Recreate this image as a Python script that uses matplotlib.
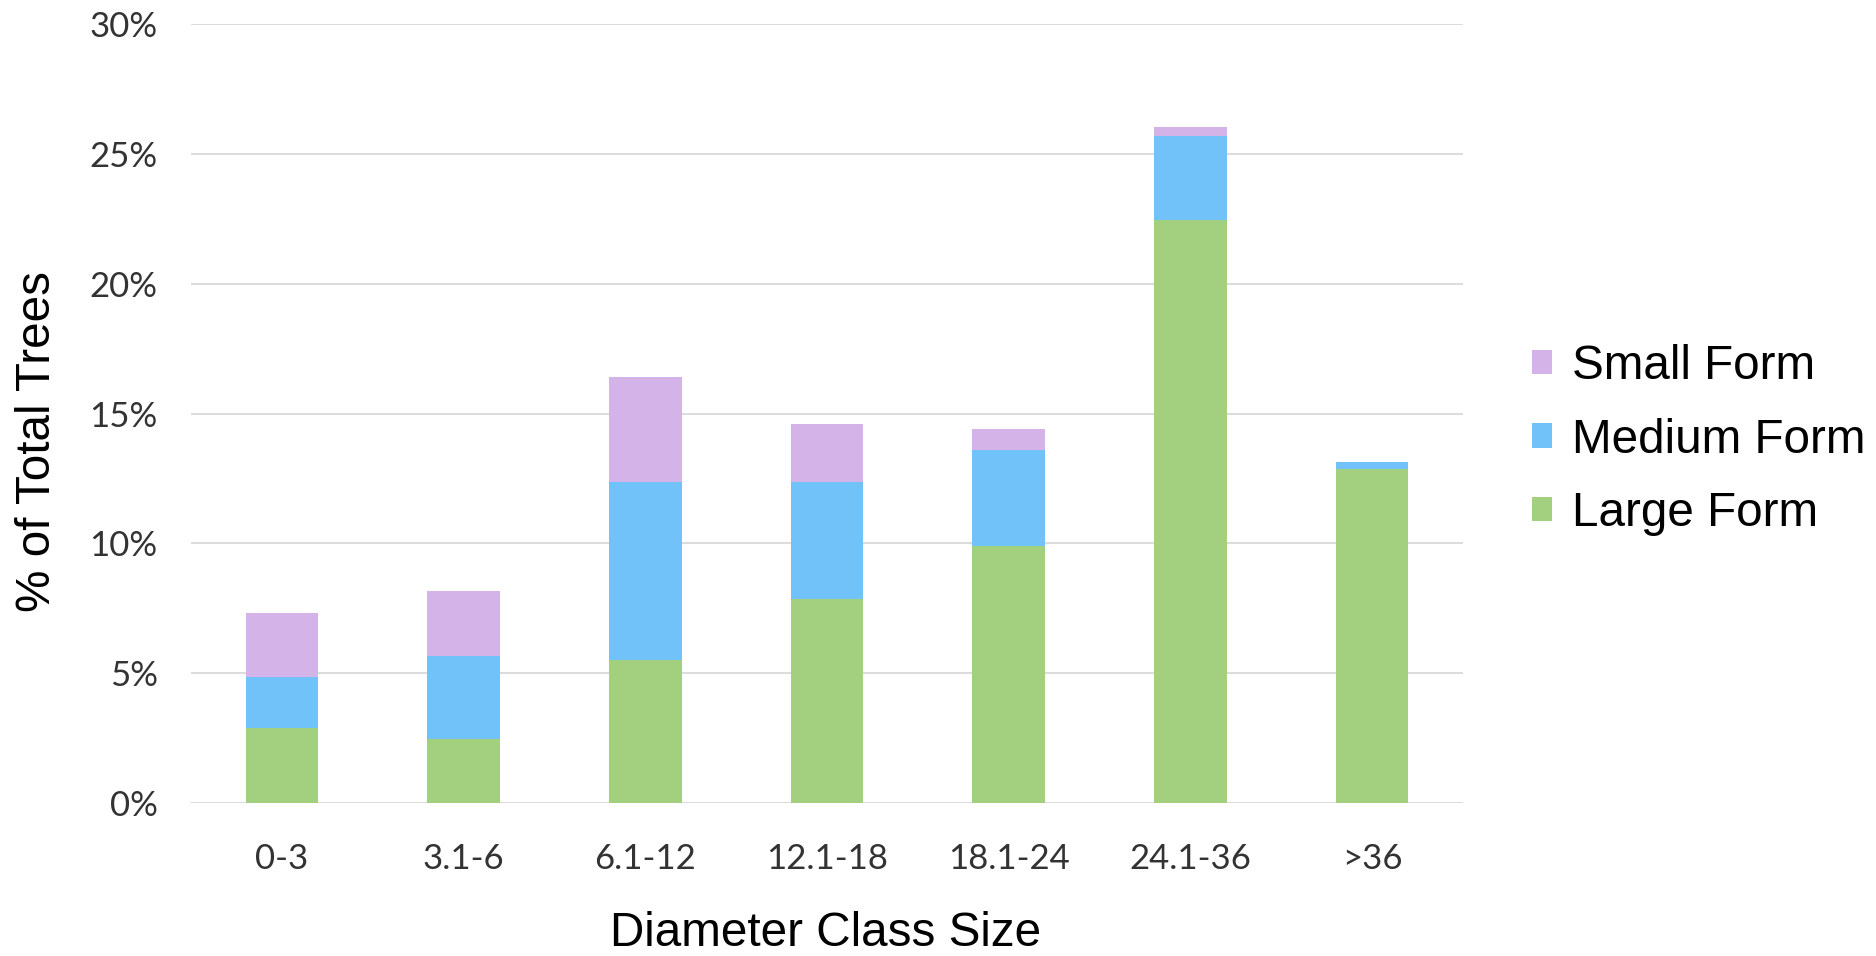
import matplotlib
matplotlib.use("Agg")
import matplotlib.pyplot as plt
import numpy as np

categories = ["0-3", "3.1-6", "6.1-12", "12.1-18", "18.1-24", "24.1-36", ">36"]
large_form = [2.9, 2.45, 5.5, 7.85, 9.9, 22.45, 12.85]
medium_form = [1.95, 3.2, 6.85, 4.5, 3.7, 3.25, 0.3]
small_form = [2.45, 2.5, 4.05, 2.25, 0.8, 0.35, 0.0]
y_ticks = [0, 5, 10, 15, 20, 25, 30]

c_large = "#A2D07F"
c_medium = "#72C2FA"
c_small = "#D4B4E8"

W, H = 1876, 956
fig = plt.figure(figsize=(W / 100, H / 100), dpi=100)
fig.patch.set_facecolor("white")
ax = fig.add_axes([191 / W, 1 - 803 / H, (1463 - 191) / W, (803 - 24) / H])

x = np.arange(len(categories))
bw = 0.4
large_arr = np.array(large_form)
med_arr = np.array(medium_form)
small_arr = np.array(small_form)
b1 = ax.bar(x, large_arr, bw, color=c_large, label="Large Form", zorder=3)
b2 = ax.bar(x, med_arr, bw, bottom=large_arr, color=c_medium, label="Medium Form", zorder=3)
b3 = ax.bar(x, small_arr, bw, bottom=large_arr + med_arr, color=c_small, label="Small Form", zorder=3)

ax.set_xlim(-0.5, len(categories) - 0.5)
ax.set_ylim(0, 30)
ax.set_yticks(y_ticks)
ax.set_yticklabels([f"{v}%" for v in y_ticks])
ax.set_xticks(x)
ax.set_xticklabels(categories)
ax.yaxis.grid(True, color="#D9D9D9", linewidth=1.3, zorder=0)
ax.set_axisbelow(True)
for s in ax.spines.values():
    s.set_visible(False)
ax.tick_params(axis="both", length=0, labelsize=25, labelcolor="#333333")
ax.tick_params(axis="x", pad=29)
ax.tick_params(axis="y", pad=24)
for lbl in ax.get_xticklabels() + ax.get_yticklabels():
    lbl.set_family("Lato")

fig.text(826 / W, 1 - 933 / H, "Diameter Class Size", ha="center", va="center",
         fontsize=34.3, family="Liberation Sans", color="black")
fig.text(37 / W, 1 - 442 / H, "% of Total Trees", ha="center", va="center",
         rotation=90, fontsize=34.3, family="Liberation Sans", color="black")

leg = ax.legend(handles=[b3, b2, b1], labels=["Small Form", "Medium Form", "Large Form"],
                loc="center left", bbox_to_anchor=(1532 / W, 1 - 440 / H),
                bbox_transform=fig.transFigure, frameon=False,
                prop={"family": "Liberation Sans", "size": 34.3},
                handlelength=0.42, handleheight=0.42, handletextpad=0.42,
                labelspacing=0.6, borderpad=0, borderaxespad=0)

fig.savefig("out.png", dpi=100, facecolor="white")
